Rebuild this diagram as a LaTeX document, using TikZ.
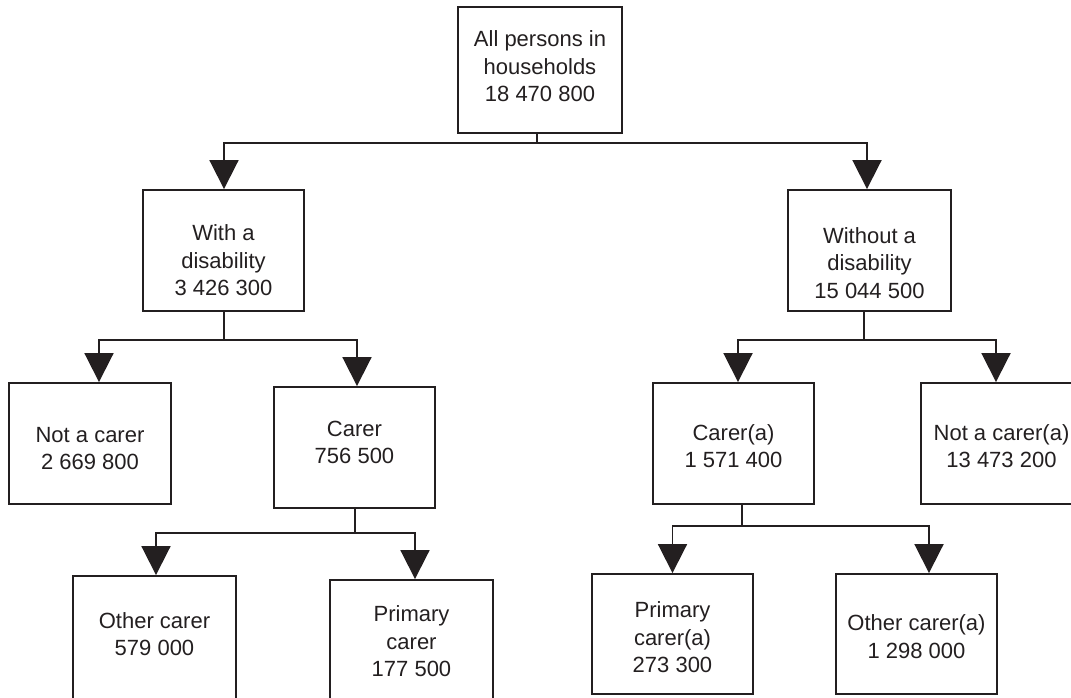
\documentclass[tikz,border=0pt]{standalone}
\usepackage{fontspec}
\setmainfont{Liberation Sans}
\usetikzlibrary{arrows.meta}
\definecolor{ink}{RGB}{35,31,32}
\newcommand\bt[2]{\raisebox{\dimexpr-7.7pt-#1pt\relax}[0pt][0pt]{\begin{tabular}{@{}c@{}}#2\end{tabular}}}
\begin{document}
\begin{tikzpicture}[x=1pt,y=-1pt,
  box/.style={draw=ink, line width=1.9pt, inner sep=0pt, text=ink,
    font=\fontsize{22}{27.5}\selectfont, minimum width=162pt, minimum height=121pt},
  ln/.style={draw=ink, line width=1.9pt},
  arr/.style={ln, -{Triangle[width=29pt,length=29pt]}}]
\useasboundingbox (0,0) rectangle (1071,697);
\clip (0,0) rectangle (1071,697);
% boxes
\node[box, minimum width=164pt, minimum height=126pt] (all) at (540,70) {\bt{-4}{All persons in\\households\\18 470 800}};
\node[box, minimum width=161pt] (wd) at (223.5,250.5) {\bt{9.5}{With a\\disability\\3 426 300}};
\node[box, minimum width=163pt] (wod) at (869.5,250.5) {\bt{12}{Without a\\disability\\15 044 500}};
\node[box] (nc) at (90,443.5) {\bt{4.5}{Not a carer\\2 669 800}};
\node[box, minimum width=161pt] (car) at (354.5,447.5) {\bt{-5.5}{Carer\\756 500}};
\node[box, minimum width=161pt] (carA) at (733.5,443.5) {\bt{2.5}{Carer(a)\\1 571 400}};
\node[box, minimum width=161pt] (ncA) at (1001.5,443.5) {\bt{2.5}{Not a carer(a)\\13 473 200}};
\node[box, minimum width=163pt, minimum height=125pt] (oc) at (154.5,638.5) {\bt{-4.5}{Other carer\\579 000}};
\node[box, minimum width=163pt, minimum height=125pt] (pc) at (411.5,642.5) {\bt{-1.5}{Primary\\carer\\177 500}};
\node[box, minimum width=161pt, minimum height=120pt] (pcA) at (672.5,634) {\bt{3}{Primary\\carer(a)\\273 300}};
\node[box, minimum width=161pt, minimum height=120pt] (ocA) at (916.5,634) {\bt{2.5}{Other carer(a)\\1 298 000}};
% connectors
\draw[ln] ([xshift=-3pt]all.south) -- ++(0,9) coordinate (j1);
\draw[arr] (j1) -| ([xshift=0.5pt]wd.north);
\draw[arr] (j1) -| ([xshift=-2.5pt]wod.north);
\draw[ln] ([xshift=0.5pt]wd.south) -- ++(0,28) coordinate (j2);
\draw[arr] (j2) -| ([xshift=9pt]nc.north);
\draw[arr] (j2) -| ([xshift=2.5pt]car.north);
\draw[ln] ([xshift=-5.5pt]wod.south) -- ++(0,28) coordinate (j3);
\draw[arr] (j3) -| ([xshift=4.5pt]carA.north);
\draw[arr] (j3) -| ([xshift=-5.5pt]ncA.north);
\draw[ln] ([xshift=0.5pt]car.south) -- ++(0,24) coordinate (j4);
\draw[arr] (j4) -| ([xshift=1.5pt]oc.north);
\draw[arr] (j4) -| ([xshift=3.5pt]pc.north);
\draw[ln] ([xshift=8.5pt]carA.south) -- ++(0,21) coordinate (j5);
\draw[arr] (j5) -| (pcA.north);
\draw[arr] (j5) -| ([xshift=12.5pt]ocA.north);
\end{tikzpicture}
\end{document}
